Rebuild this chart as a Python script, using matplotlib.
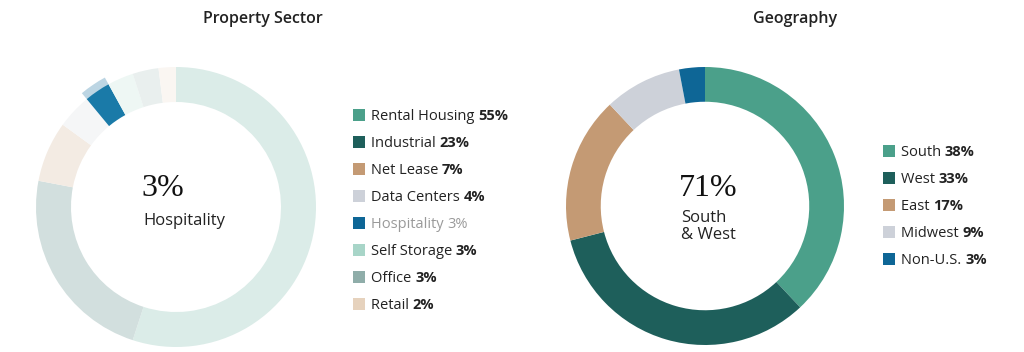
import matplotlib
matplotlib.use('Agg')
import matplotlib.pyplot as plt

# data
sector_labels = ['Rental Housing', 'Industrial', 'Net Lease', 'Data Centers',
                 'Hospitality', 'Self Storage', 'Office', 'Retail']
sector_values = [55, 23, 7, 4, 3, 3, 3, 2]
sector_colors = ['#4ba08a', '#1e5f5b', '#c49a74', '#cdd1d9',
                 '#0e6696', '#a8d5c8', '#8fada9', '#e6d2bd']
highlight = 'Hospitality'

geo_labels = ['South', 'West', 'East', 'Midwest', 'Non-U.S.']
geo_values = [38, 33, 17, 9, 3]
geo_colors = ['#4ba08a', '#1e5f5b', '#c49a74', '#cdd1d9', '#0e6696']

sans = ['Open Sans', 'DejaVu Sans']
serif = ['Liberation Serif', 'DejaVu Serif']
txt_color = '#222222'

W, H = 1024, 352
fig = plt.figure(figsize=(W / 100, H / 100), dpi=100)


def donut_axes(cx, cy, r):
    # axes in pixel units, data radius 1 == r pixels, limits +-1.1
    half = r * 1.1
    ax = fig.add_axes([(cx - half) / W, (H - cy - half) / H, 2 * half / W, 2 * half / H])
    ax.set_aspect('equal')
    ax.axis('off')
    return ax


def faded(hex_color, a=0.2):
    r, g, b = matplotlib.colors.to_rgb(hex_color)
    return (1 - a + a * r, 1 - a + a * g, 1 - a + a * b)


# left donut: highlighted slice
ax1 = donut_axes(176, 207, 140)
hi = sector_labels.index(highlight)
cols1 = [faded(c) if i != hi else '#1a7aa8' for i, c in enumerate(sector_colors)]
halo = ['none' if i != hi else '#bcd5e3' for i in range(len(sector_values))]
ax1.pie(sector_values, colors=halo, startangle=90, counterclock=False, radius=1.055,
        wedgeprops=dict(width=0.06, linewidth=0))
ax1.pie(sector_values, colors=cols1, startangle=90, counterclock=False, radius=1.0,
        wedgeprops=dict(width=0.25, linewidth=0))
ax1.set_xlim(-1.1, 1.1)
ax1.set_ylim(-1.1, 1.1)

# right donut
ax2 = donut_axes(705, 206, 139)
ax2.pie(geo_values, colors=geo_colors, startangle=90, counterclock=False, radius=1.0,
        wedgeprops=dict(width=0.25, linewidth=0))
ax2.set_xlim(-1.1, 1.1)
ax2.set_ylim(-1.1, 1.1)

# overlay for text and legends, pixel coords
ov = fig.add_axes([0, 0, 1, 1])
ov.set_xlim(0, W)
ov.set_ylim(H, 0)
ov.axis('off')

ov.text(263, 19, 'Property Sector', ha='center', va='center', fontsize=11.5,
        fontweight='semibold', family=sans, color=txt_color)
ov.text(795, 19, 'Geography', ha='center', va='center', fontsize=11.5,
        fontweight='semibold', family=sans, color=txt_color)

# centre labels
ov.text(141, 189, '%d%%' % sector_values[hi], ha='left', va='center', fontsize=23,
        family=serif, color='#111111')
ov.text(143, 221, highlight, ha='left', va='center', fontsize=12, family=sans,
        color=txt_color)
ov.text(679, 189, '%d%%' % (geo_values[0] + geo_values[1]), ha='left', va='center',
        fontsize=23, family=serif, color='#111111')
ov.text(681, 218, 'South', ha='left', va='center', fontsize=12, family=sans, color=txt_color)
ov.text(681, 235, '& West', ha='left', va='center', fontsize=12, family=sans, color=txt_color)


def legend(x_mark, x_text, y0, labels, values, colors, grey=None):
    for i, (lab, val, col) in enumerate(zip(labels, values, colors)):
        y = y0 + i * 27
        ov.scatter([x_mark], [y], marker='s', s=75, color=col, linewidths=0)
        c = '#9a9a9a' if lab == grey else txt_color
        base = y + 5
        t = ov.text(x_text, base, lab + ' ', ha='left', va='baseline', fontsize=10.5,
                    family=sans, color=c)
        ov.annotate('%d%%' % val, xy=(1, base), xycoords=(t, 'data'), ha='left',
                    va='baseline', fontsize=10.5, family=sans, color=c,
                    fontweight='normal' if lab == grey else 'bold')


legend(359, 371, 115, sector_labels, sector_values, sector_colors, grey=highlight)
legend(889, 901, 151, geo_labels, geo_values, geo_colors)

fig.savefig('out.png', dpi=100, facecolor='white')
